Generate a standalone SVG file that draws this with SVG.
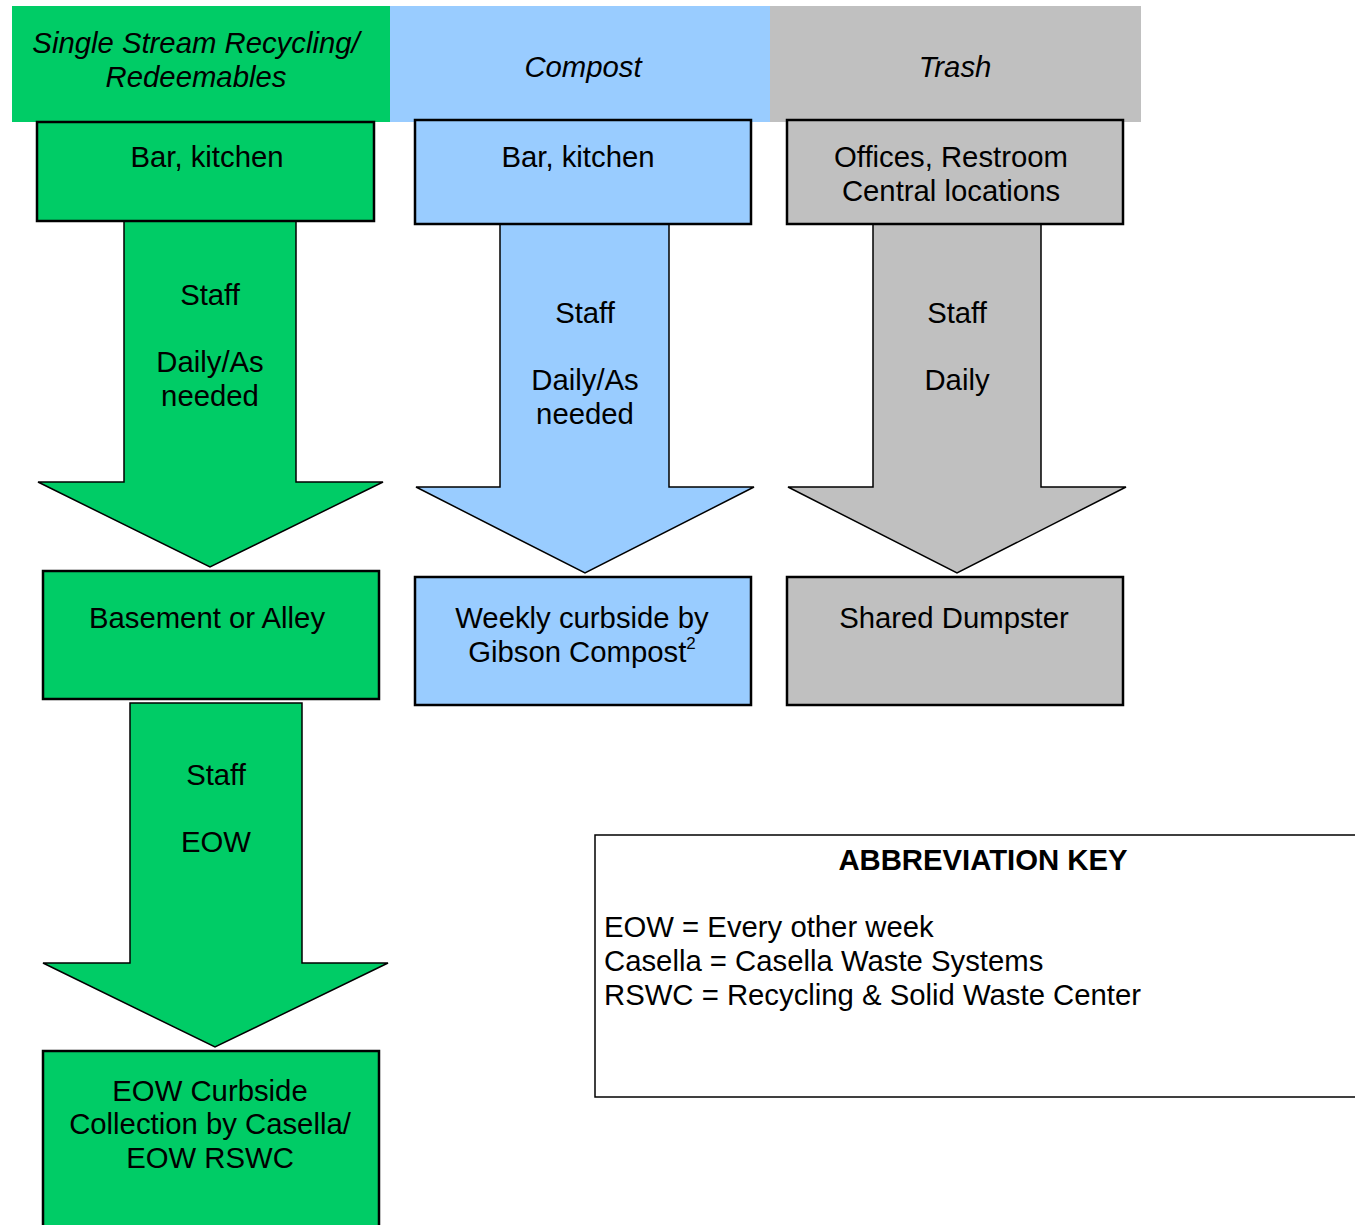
<svg xmlns="http://www.w3.org/2000/svg" width="1355" height="1225" viewBox="0 0 1355 1225">
<style>
text{font-family:"Liberation Sans",Arial,sans-serif;font-size:29.3px;fill:#000;text-anchor:middle}
.g{fill:#00CC66}.b{fill:#99CCFF}.t{fill:#C0C0C0}
.box{stroke:#000;stroke-width:2.5}
.arr{stroke:#000;stroke-width:1.5;stroke-linejoin:miter}
.hd{font-style:italic}
.key{text-anchor:start}
</style>
<rect width="1355" height="1225" fill="#fff"/>
<g id="header-recycling"><rect class="g" x="12" y="6" width="378" height="116"/><text class="hd" x="196" y="53">Single Stream Recycling/</text><text class="hd" x="196" y="87">Redeemables</text></g>
<g id="header-compost"><rect class="b" x="390" y="6" width="380" height="116"/><text class="hd" x="583" y="77">Compost</text></g>
<g id="header-trash"><rect class="t" x="770" y="6" width="371" height="116"/><text class="hd" x="955" y="77">Trash</text></g>

<g id="connectors">
<g id="arrow-g1"><path class="g arr" d="M124,221 L296,221 L296,482 L383,482 L210,567 L38,482 L124,482 Z"/><text x="210" y="305">Staff</text><text x="210" y="372">Daily/As</text><text x="210" y="406">needed</text></g>
<g id="arrow-b1"><path class="b arr" d="M500,224 L669,224 L669,487 L754,487 L585,573 L416,487 L500,487 Z"/><text x="585" y="323">Staff</text><text x="585" y="390">Daily/As</text><text x="585" y="424">needed</text></g>
<g id="arrow-t1"><path class="t arr" d="M873,224 L1041,224 L1041,487 L1126,487 L957,573 L788,487 L873,487 Z"/><text x="957" y="323">Staff</text><text x="957" y="390">Daily</text></g>
<g id="arrow-g2"><path class="g arr" d="M130,703 L302,703 L302,963 L388,963 L215,1047 L43,963 L130,963 Z"/><text x="216" y="785">Staff</text><text x="216" y="852">EOW</text></g>
</g>

<g id="g-bar"><rect class="g box" x="37" y="122" width="337" height="99"/><text x="207" y="167">Bar, kitchen</text></g>
<g id="b-bar"><rect class="b box" x="415" y="120" width="336" height="104"/><text x="578" y="167">Bar, kitchen</text></g>
<g id="t-offices"><rect class="t box" x="787" y="120" width="336" height="104"/><text x="951" y="167">Offices, Restroom</text><text x="951" y="201">Central locations</text></g>

<g id="g-basement"><rect class="g box" x="43" y="571" width="336" height="128"/><text x="207" y="628">Basement or Alley</text></g>
<g id="b-weekly"><rect class="b box" x="415" y="577" width="336" height="128"/><text x="582" y="628">Weekly curbside by</text><text x="582" y="662">Gibson Compost<tspan font-size="17" dy="-13">2</tspan></text></g>
<g id="t-dumpster"><rect class="t box" x="787" y="577" width="336" height="128"/><text x="954" y="628">Shared Dumpster</text></g>

<g id="g-eow"><rect class="g box" x="43" y="1051" width="336" height="190"/><text x="210" y="1101">EOW Curbside</text><text x="210" y="1134">Collection by Casella/</text><text x="210" y="1168">EOW RSWC</text></g>

<g id="key"><rect x="595" y="835" width="780" height="262" fill="#fff" stroke="#000" stroke-width="1.5"/><text x="983" y="870" font-weight="bold">ABBREVIATION KEY</text><text class="key" x="604" y="937">EOW = Every other week</text><text class="key" x="604" y="971">Casella = Casella Waste Systems</text><text class="key" x="604" y="1005">RSWC = Recycling &amp; Solid Waste Center</text></g>
</svg>
